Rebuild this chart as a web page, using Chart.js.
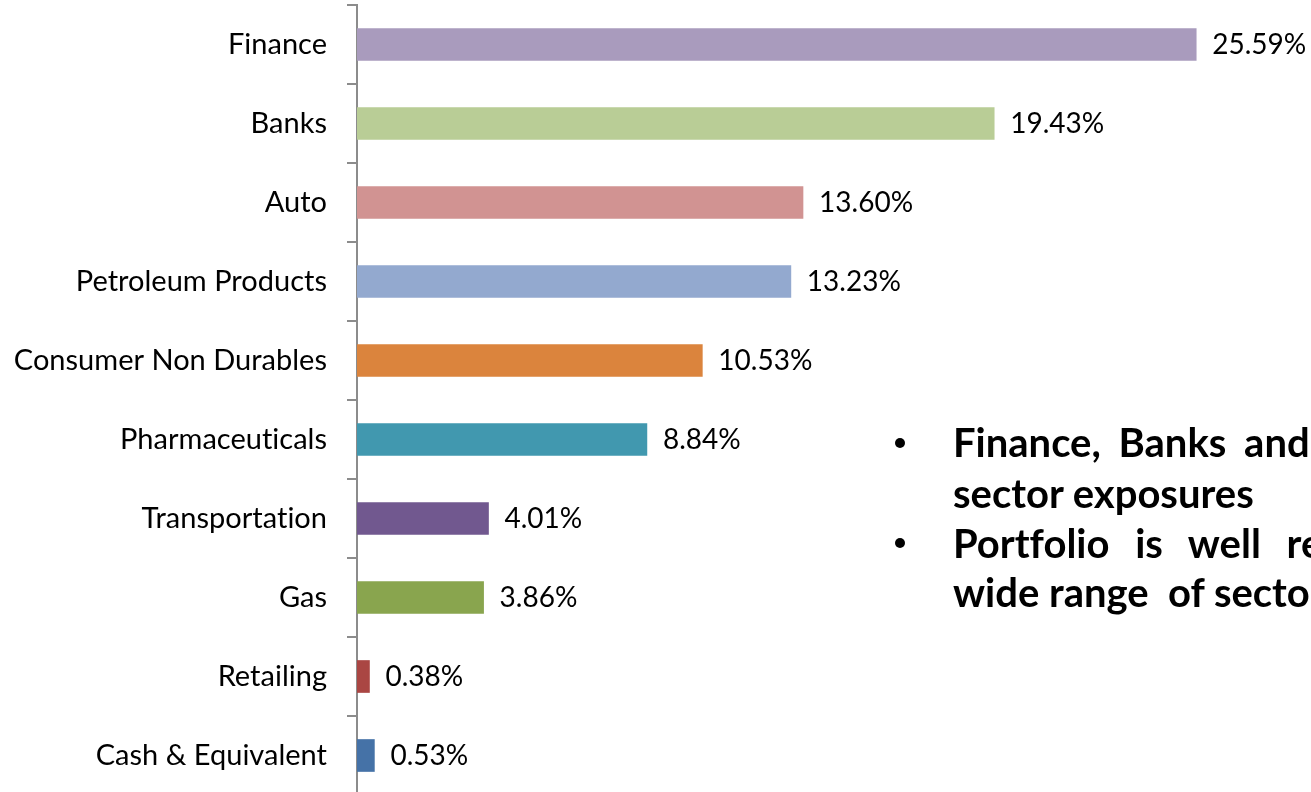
<!DOCTYPE html>
<html>
<head>
<meta charset="utf-8">
<script src="https://cdn.jsdelivr.net/npm/chart.js@4.4.1/dist/chart.umd.min.js"></script>
<style>
  html, body { margin: 0; padding: 0; background: #fff; overflow: hidden; }
  #wrap { position: relative; width: 1311px; height: 792px; overflow: hidden; }
  #chart { position: absolute; left: 0; top: 0; }
  .note { position: absolute; font-family: Lato, sans-serif; font-weight: bold; font-size: 40px; color: #000;
          white-space: nowrap; line-height: 1; font-variant-ligatures: none; }
  .dot { position: absolute; width: 10px; height: 10px; border-radius: 50%; background: #000; }
</style>
</head>
<body>
<div id="wrap">
  <canvas id="chart" width="1311" height="800"></canvas>
  <div class="dot" style="left:895px; top:438px;"></div>
  <div class="note" style="left:953px; top:422px; word-spacing:8px;">Finance, Banks and</div>
  <div class="note" style="left:953px; top:473px;">sector exposures</div>
  <div class="dot" style="left:895px; top:538px;"></div>
  <div class="note" style="left:953px; top:523px; word-spacing:16px;">Portfolio is well re</div>
  <div class="note" style="left:953px; top:572px;">wide range&nbsp; of sectors</div>
</div>
<script>
const sectors = ["Finance", "Banks", "Auto", "Petroleum Products", "Consumer Non Durables",
  "Pharmaceuticals", "Transportation", "Gas", "Retailing", "Cash & Equivalent"];
const weights = [25.59, 19.43, 13.60, 13.23, 10.53, 8.84, 4.01, 3.86, 0.38, 0.53];
const barColors = ["#A99BBD", "#B9CD96", "#D19392", "#93A9CF", "#DB843D",
  "#4198AF", "#71588F", "#89A54E", "#AA4643", "#4572A7"];

// tiny letter spacing stops Lato's "ti" / "ft" ligatures on the canvas
const noLigatures = {
  id: "noLigatures",
  beforeDraw(chart) { chart.ctx.letterSpacing = "0.01px"; }
};

const valueLabels = {
  id: "valueLabels",
  afterDatasetsDraw(chart) {
    const ctx = chart.ctx;
    const meta = chart.getDatasetMeta(0);
    ctx.save();
    ctx.font = "28px Lato";
    ctx.fillStyle = "#000";
    ctx.textAlign = "left";
    ctx.textBaseline = "middle";
    meta.data.forEach((bar, i) => {
      ctx.fillText(weights[i].toFixed(2) + "%", bar.x + 16, bar.y);
    });
    ctx.restore();
  }
};

new Chart(document.getElementById("chart"), {
  type: "bar",
  data: {
    labels: sectors,
    datasets: [{
      data: weights,
      backgroundColor: barColors,
      barThickness: 32
    }]
  },
  options: {
    indexAxis: "y",
    responsive: false,
    animation: false,
    layout: { padding: { top: 5, bottom: 5, left: 0, right: 0 } },
    plugins: { legend: { display: false }, tooltip: { enabled: false } },
    scales: {
      x: { display: false, min: 0, max: 29.09 },
      y: {
        afterFit(scale) {
          scale.width = 357;
          // no extra room for half-labels at the ends
          scale.paddingTop = 0;
          scale.paddingBottom = 0;
        },
        border: { color: "#8c8c8c", width: 2 },
        grid: { drawOnChartArea: false, color: "#8c8c8c", lineWidth: 2, tickLength: 10, offset: true },
        ticks: { color: "#000", font: { family: "Lato", size: 29 }, padding: 20 }
      }
    }
  },
  plugins: [noLigatures, valueLabels]
});
</script>
</body>
</html>
